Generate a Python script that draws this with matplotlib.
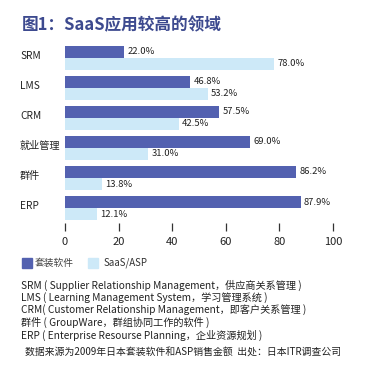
import matplotlib
matplotlib.use("Agg")
import matplotlib.pyplot as plt
from matplotlib.patches import Rectangle
from matplotlib.transforms import blended_transform_factory

plt.rcParams['font.family'] = ['Noto Sans CJK SC', 'DejaVu Sans']

categories = ['SRM', 'LMS', 'CRM', '就业管理', '群件', 'ERP']
packaged = [22.0, 46.8, 57.5, 69.0, 86.2, 87.9]
saas = [78.0, 53.2, 42.5, 31.0, 13.8, 12.1]
series_names = ['套装软件', 'SaaS/ASP']
xticks = [0, 20, 40, 60, 80, 100]

title = '图1：SaaS应用较高的领域'
notes = [
    'SRM ( Supplier Relationship Management，供应商关系管理 )',
    'LMS ( Learning Management System，学习管理系统 )',
    'CRM( Customer Relationship Management，即客户关系管理 )',
    '群件 ( GroupWare，群组协同工作的软件 )',
    'ERP ( Enterprise Resourse Planning，企业资源规划 )',
]
source = '数据来源为2009年日本套装软件和ASP销售金额  出处：日本ITR调查公司'

dark = '#5361b0'
light = '#cde9f8'
W, H = 382, 377

fig = plt.figure(figsize=(W / 100, H / 100), dpi=100)
fig.patch.set_facecolor('white')

# axes in pixel layout
left, right, top, bottom = 65, 333, 40, 223
ax = fig.add_axes([left / W, 1 - bottom / H, (right - left) / W, (bottom - top) / H])

pos = list(range(len(categories)))
ax.barh([p for p in pos], packaged, height=0.4, color=dark, align='center')
ax.barh([p + 0.4 for p in pos], saas, height=0.4, color=light, align='center')

for p, v in zip(pos, packaged):
    ax.text(v + 1.2, p, f'{v:.1f}%', va='center', ha='left', fontsize=6.8,
            color='#222222')
for p, v in zip(pos, saas):
    ax.text(v + 1.2, p + 0.4, f'{v:.1f}%', va='center', ha='left', fontsize=6.8,
            color='#222222')

ax.set_xlim(0, 100)
ax.set_ylim(5.7, -0.4)
ax.set_xticks(xticks)
ax.set_xticklabels([str(t) for t in xticks], fontsize=8, color='#222222')
ax.set_yticks([])
ax.tick_params(axis='x', direction='out', length=5.8, width=0.9, color='#333333', pad=4)
for s in ax.spines.values():
    s.set_visible(False)

tr = blended_transform_factory(fig.transFigure, ax.transData)
for p, c in zip(pos, categories):
    ax.text(20 / W, p + 0.13, c, transform=tr, ha='left', va='center',
            fontsize=7.3, color='#222222')

fig.text(22 / W, 1 - 25 / H, title, fontsize=12, fontweight='bold',
         color='#3d4a8f', ha='left', va='center')

# legend
fig.patches.append(Rectangle((22 / W, 1 - 268 / H), 10 / W, 10 / H,
                             transform=fig.transFigure, color=dark))
fig.text(35 / W, 1 - 263 / H, series_names[0], fontsize=7, color='#444444',
         ha='left', va='center')
fig.patches.append(Rectangle((88 / W, 1 - 268 / H), 10 / W, 10 / H,
                             transform=fig.transFigure, color=light))
fig.text(104 / W, 1 - 263 / H, series_names[1], fontsize=7, color='#333333',
         ha='left', va='center')

for i, line in enumerate(notes):
    fig.text(21 / W, 1 - (285 + i * 12.5) / H, line, fontsize=7.3,
             color='#222222', ha='left', va='center')

fig.text(25 / W, 1 - 352 / H, source, fontsize=7.1, color='#222222',
         ha='left', va='center')

fig.savefig('out.png', dpi=100, facecolor='white')
